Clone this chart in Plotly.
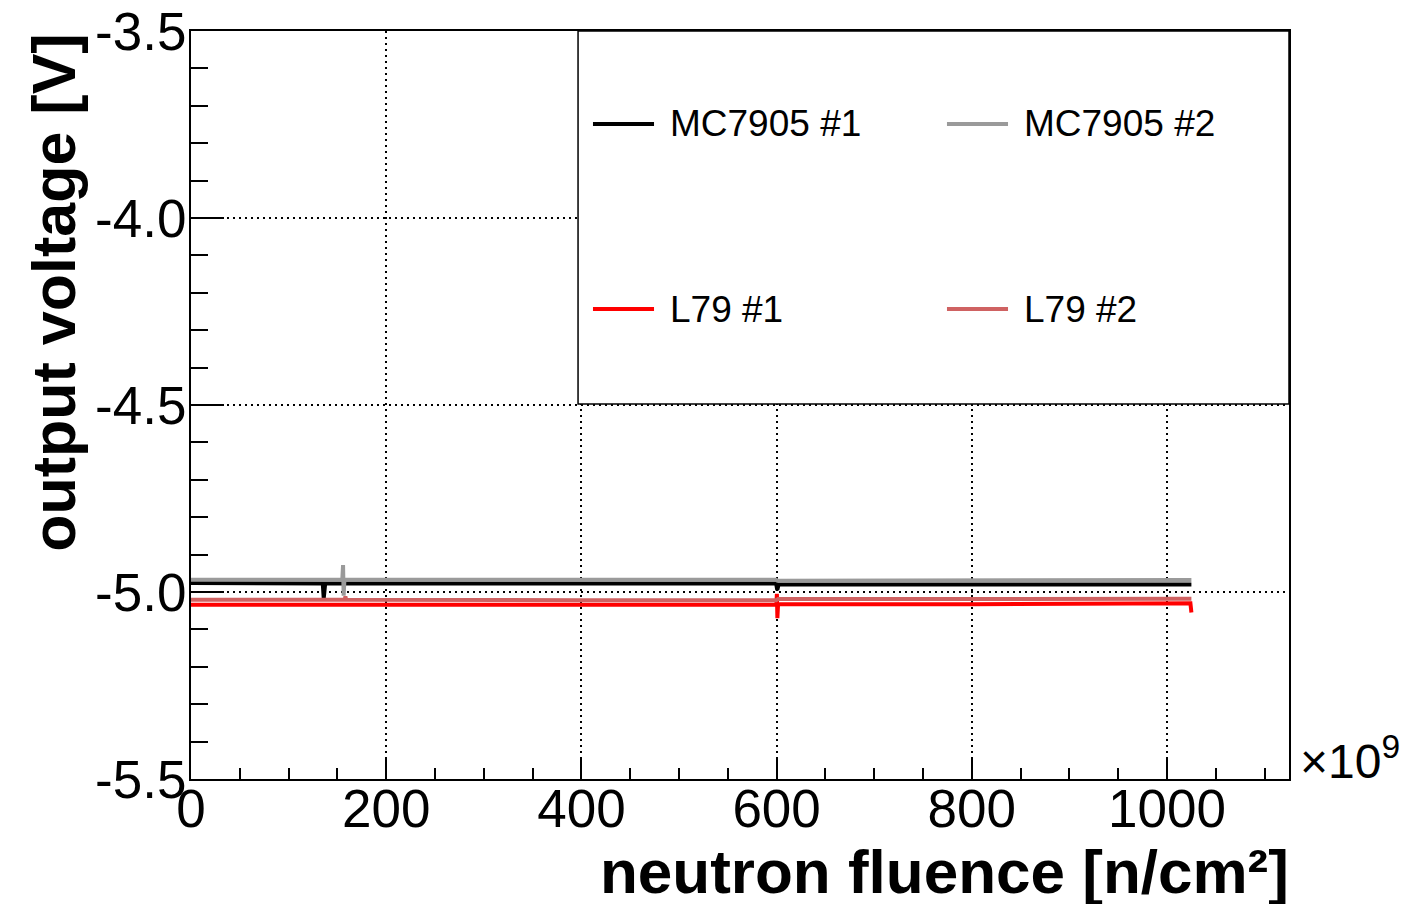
import plotly.graph_objects as go

# ---- data: output voltage vs. neutron fluence (fluence in units of 1e9 n/cm^2) ----
mc1_fluence = [0, 60, 135, 136, 137.5, 300, 599.5, 600.7, 602, 800, 1025]
mc1_voltage = [-4.976, -4.976, -4.977, -5.017, -4.977, -4.977, -4.977, -4.995, -4.980, -4.980, -4.980]

mc2_fluence = [0, 155, 155.8, 156.4, 157.2, 300, 599.5, 601, 800, 1025]
mc2_voltage = [-4.967, -4.967, -4.928, -5.010, -4.967, -4.967, -4.967, -4.970, -4.970, -4.968]

l1_fluence = [0, 300, 599.8, 600.3, 600.8, 601.5, 800, 1022, 1024, 1025]
l1_voltage = [-5.034, -5.034, -5.034, -5.005, -5.070, -5.033, -5.033, -5.032, -5.030, -5.055]

l2_fluence = [0, 157.5, 158.2, 159, 400, 599.5, 601.5, 800, 1025]
l2_voltage = [-5.021, -5.021, -5.012, -5.021, -5.022, -5.022, -5.019, -5.019, -5.018]

series_names = ["MC7905 #1", "MC7905 #2", "L79 #1", "L79 #2"]
series_colors = ["#000000", "#9a9a9a", "#ff0000", "#cf6262"]

x_ticks = [0, 200, 400, 600, 800, 1000]
x_ticklabels = ["0", "200", "400", "600", "800", "1000"]
y_ticks = [-5.5, -5.0, -4.5, -4.0, -3.5]
y_ticklabels = ["-5.5", "-5.0", "-4.5", "-4.0", "-3.5"]

FONT = "Liberation Sans, Arial, Helvetica, sans-serif"

fig = go.Figure()
for xs, ys, name, color in zip(
    [mc1_fluence, mc2_fluence, l1_fluence, l2_fluence],
    [mc1_voltage, mc2_voltage, l1_voltage, l2_voltage],
    series_names, series_colors,
):
    fig.add_trace(go.Scatter(
        x=xs, y=ys, mode="lines", name=name,
        line=dict(color=color, width=4),
        showlegend=False,
    ))

# ---- legend box drawn in paper coordinates (two columns, two rows) ----
fig.add_shape(type="rect", xref="paper", yref="paper",
              x0=0.3525, x1=1.0, y0=0.5013, y1=1.0,
              line=dict(color="black", width=1.5), fillcolor="white", layer="above")

legend_cols = [(0.3661, 0.4217, 0.4344), (0.6885, 0.7441, 0.7568)]
legend_rows = [0.8757, 0.6283]
for i, (name, color) in enumerate(zip(series_names, series_colors)):
    lx0, lx1, tx = legend_cols[i % 2]
    ly = legend_rows[i // 2]
    fig.add_shape(type="line", xref="paper", yref="paper",
                  x0=lx0, x1=lx1, y0=ly, y1=ly,
                  line=dict(color=color, width=4), layer="above")
    fig.add_annotation(xref="paper", yref="paper", x=tx, y=ly,
                       text=name, showarrow=False, xanchor="left", yanchor="middle",
                       font=dict(family=FONT, size=37, color="black"))

# ---- axis titles and exponent label ----
fig.add_annotation(xref="paper", yref="paper", x=1.002, y=-0.123,
                   text="<b>neutron fluence [n/cm²]</b>", showarrow=False,
                   xanchor="right", yanchor="middle",
                   font=dict(family=FONT, size=62, color="black"))
fig.add_annotation(xref="paper", yref="paper", x=-0.1248, y=0.650,
                   text="<b>output voltage [V]</b>", showarrow=False, textangle=-90,
                   xanchor="center", yanchor="middle",
                   font=dict(family=FONT, size=61, color="black"))
fig.add_annotation(xref="paper", yref="paper", x=1.0082, y=-0.015,
                   text="×10<sup>9</sup>", showarrow=False,
                   xanchor="left", yanchor="bottom",
                   font=dict(family=FONT, size=48, color="black"))

axis_common = dict(
    showline=True, mirror=True, linecolor="black", linewidth=2,
    ticks="inside", tickcolor="black", tickwidth=1.5,
    showgrid=True, gridcolor="black", gridwidth=1.5, griddash="2px,4px",
    zeroline=False, automargin=False,
    tickfont=dict(family=FONT, size=53, color="black"),
)

fig.update_xaxes(
    range=[0, 1125], tickmode="array", tickvals=x_ticks, ticktext=x_ticklabels,
    ticklen=22, ticklabelstandoff=-18,
    minor=dict(dtick=50, ticklen=11, tickwidth=1.5, tickcolor="black", ticks="inside", showgrid=False),
    **axis_common,
)
fig.update_yaxes(
    range=[-5.5, -3.5], tickmode="array", tickvals=y_ticks, ticktext=y_ticklabels,
    ticklen=33, ticklabelstandoff=-8,
    minor=dict(dtick=0.1, ticklen=17, tickwidth=1.5, tickcolor="black", ticks="inside", showgrid=False),
    **axis_common,
)

fig.update_layout(
    width=1405, height=904,
    margin=dict(l=191, r=116, t=31, b=125),
    paper_bgcolor="white", plot_bgcolor="white",
    font=dict(family=FONT, color="black"),
    showlegend=False,
)

fig.write_html("out.html")
